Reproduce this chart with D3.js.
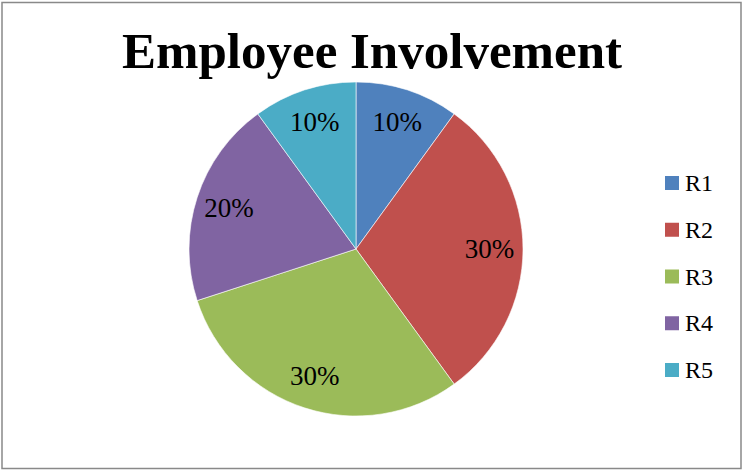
<!DOCTYPE html>
<html><head><meta charset="utf-8">
<script src="https://cdn.jsdelivr.net/npm/d3@7"></script>
<style>html,body{margin:0;padding:0;background:#fff;}</style>
</head><body>
<svg id="c" width="742" height="471"></svg>
<script>
const title = "Employee Involvement";
const categories = ["R1","R2","R3","R4","R5"];
const values = [10,30,30,20,10];
const colors = ["#4F81BD","#C0504D","#9BBB59","#8064A2","#4BACC6"];

const svg = d3.select("#c");
svg.append("rect").attr("x",2).attr("y",2.5).attr("width",739).attr("height",466)
  .attr("fill","#fff").attr("stroke","#898989").attr("stroke-width",1.5);

svg.append("text").attr("x",372).attr("y",68).attr("text-anchor","middle")
  .attr("font-family","'Liberation Serif', 'DejaVu Serif', serif").attr("font-weight","bold")
  .attr("font-size",51).attr("fill","#000").text(title);

const cx = 356, cy = 249, r = 167;
const total = d3.sum(values);
const pie = d3.pie().sort(null).value(d=>d)(values);
const arc = d3.arc().innerRadius(0).outerRadius(r);
const g = svg.append("g").attr("transform",`translate(${cx},${cy})`);
g.selectAll("path").data(pie).join("path")
  .attr("d",arc).attr("fill",(d,i)=>colors[i])
  .attr("stroke","#fff").attr("stroke-width",0.6);
const labelArc = d3.arc().innerRadius(r*0.8).outerRadius(r*0.8);
g.selectAll("text").data(pie).join("text")
  .attr("transform",d=>`translate(${labelArc.centroid(d)})`)
  .attr("text-anchor","middle").attr("dominant-baseline","central")
  .attr("font-family","'Liberation Serif', 'DejaVu Serif', serif")
  .attr("font-size",27).attr("fill","#000")
  .text(d=>Math.round(d.data/total*100)+"%");

const ly = d3.scalePoint().domain(categories).range([183,370]);
const lg = svg.append("g");
categories.forEach((c,i)=>{
  lg.append("rect").attr("x",665).attr("y",ly(c)-7).attr("width",14).attr("height",14).attr("fill",colors[i]);
  lg.append("text").attr("x",685).attr("y",ly(c)).attr("dominant-baseline","central")
    .attr("font-family","'Liberation Serif', 'DejaVu Serif', serif")
    .attr("font-size",24).attr("fill","#000").text(c);
});
</script>
</body></html>
